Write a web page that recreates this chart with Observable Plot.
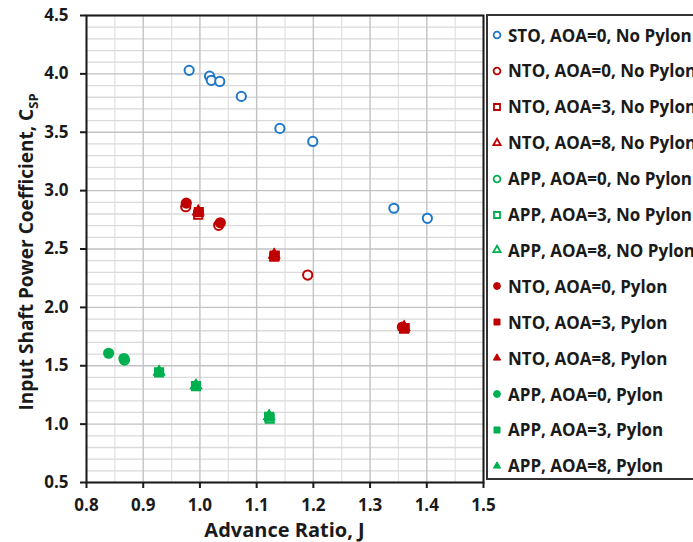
<!DOCTYPE html>
<html>
<head>
<meta charset="utf-8">
<script src="https://cdn.jsdelivr.net/npm/d3@7"></script>
<script src="https://cdn.jsdelivr.net/npm/@observablehq/plot@0.6"></script>
<style>
  body { margin: 0; background: #fff; overflow: hidden; }
  #chart { position: relative; width: 693px; height: 542px; overflow: hidden; font-family: "Open Sans", sans-serif; }
  #legend { position: absolute; left: 486px; top: 14px; width: 260px; height: 466px; border: 2px solid #333; background: #fff; box-sizing: border-box; }
  .item { position: absolute; left: 0; height: 22px; display: flex; align-items: center; white-space: nowrap; font-weight: 700; font-size: 17px; color: #1a1a1a; }
  .item svg { margin-left: 3px; margin-right: 5px; overflow: visible; }
</style>
</head>
<body>
<div id="chart"></div>
<script>
// Axis ticks and grid
const xTicks = [0.8, 0.9, 1.0, 1.1, 1.2, 1.3, 1.4, 1.5];
const xMinor = [0.85, 0.95, 1.05, 1.15, 1.25, 1.35, 1.45];
const yTicks = [0.5, 1.0, 1.5, 2.0, 2.5, 3.0, 3.5, 4.0, 4.5];
const yMinor = [0.6, 0.7, 0.8, 0.9, 1.1, 1.2, 1.3, 1.4, 1.6, 1.7, 1.8, 1.9,
                2.1, 2.2, 2.3, 2.4, 2.6, 2.7, 2.8, 2.9, 3.1, 3.2, 3.3, 3.4,
                3.6, 3.7, 3.8, 3.9, 4.1, 4.2, 4.3, 4.4];

// Advance ratio J and shaft power coefficient C_SP per test series
const stoA0NoPylonJ = [0.981, 1.017, 1.020, 1.035, 1.073, 1.141, 1.199, 1.342, 1.401];
const stoA0NoPylonC = [4.030, 3.980, 3.945, 3.935, 3.807, 3.533, 3.421, 2.849, 2.763];

const ntoA0NoPylonJ = [0.975, 1.033, 1.190];
const ntoA0NoPylonC = [2.862, 2.703, 2.277];
const ntoA3NoPylonJ = [0.997, 1.131, 1.360];
const ntoA3NoPylonC = [2.795, 2.435, 1.818];
const ntoA8NoPylonJ = [0.997, 1.131, 1.360];
const ntoA8NoPylonC = [2.822, 2.450, 1.830];

const appA0NoPylonJ = [0.867];
const appA0NoPylonC = [1.548];
const appA3NoPylonJ = [1.123];
const appA3NoPylonC = [1.047];
const appA8NoPylonJ = [0.928, 0.993, 1.122];
const appA8NoPylonC = [1.448, 1.330, 1.068];

const ntoA0PylonJ = [0.976, 1.036, 1.357];
const ntoA0PylonC = [2.893, 2.725, 1.832];
const ntoA3PylonJ = [0.998, 1.132, 1.361];
const ntoA3PylonC = [2.817, 2.443, 1.823];
const ntoA8PylonJ = [0.997, 1.131, 1.360];
const ntoA8PylonC = [2.822, 2.450, 1.830];

const appA0PylonJ = [0.839, 0.866];
const appA0PylonC = [1.607, 1.562];
const appA3PylonJ = [0.928, 0.993, 1.122];
const appA3PylonC = [1.443, 1.325, 1.063];
const appA8PylonJ = [0.928, 0.993, 1.122];
const appA8PylonC = [1.448, 1.330, 1.068];

// Series in legend (and drawing) order
const seriesLabels = [
  "STO, AOA=0, No Pylon", "NTO, AOA=0, No Pylon", "NTO, AOA=3, No Pylon", "NTO, AOA=8, No Pylon",
  "APP, AOA=0, No Pylon", "APP, AOA=3, No Pylon", "APP, AOA=8, NO Pylon",
  "NTO, AOA=0, Pylon", "NTO, AOA=3, Pylon", "NTO, AOA=8, Pylon",
  "APP, AOA=0, Pylon", "APP, AOA=3, Pylon", "APP, AOA=8, Pylon"
];
const seriesJ = [stoA0NoPylonJ, ntoA0NoPylonJ, ntoA3NoPylonJ, ntoA8NoPylonJ,
  appA0NoPylonJ, appA3NoPylonJ, appA8NoPylonJ,
  ntoA0PylonJ, ntoA3PylonJ, ntoA8PylonJ, appA0PylonJ, appA3PylonJ, appA8PylonJ];
const seriesC = [stoA0NoPylonC, ntoA0NoPylonC, ntoA3NoPylonC, ntoA8NoPylonC,
  appA0NoPylonC, appA3NoPylonC, appA8NoPylonC,
  ntoA0PylonC, ntoA3PylonC, ntoA8PylonC, appA0PylonC, appA3PylonC, appA8PylonC];

// Marker style: colour by propeller, shape by AOA, filled when the pylon is on
const rigColor = { STO: "#1f78c8", NTO: "#c00000", APP: "#00b050" };
const aoaSymbol = { "0": "circle", "3": "square", "8": "triangle" };
// radius per shape so that all markers share roughly the same bounding box
const symbolRadius = { circle: 4.6, square: 4.6, triangle: 3.5 };
function styleOf(label) {
  const rig = label.slice(0, 3);
  const aoa = label.match(/AOA=(\d)/)[1];
  const pylon = !/no pylon/i.test(label);
  return { color: rigColor[rig], symbol: aoaSymbol[aoa], filled: pylon };
}

const series = seriesLabels.map((label, i) => ({
  label, style: styleOf(label),
  rows: seriesJ[i].map((J, k) => ({ J, C: seriesC[i][k] }))
}));

const dotMarks = series.map(s => Plot.dot(s.rows, {
  x: "J", y: "C", symbol: s.style.symbol, r: symbolRadius[s.style.symbol],
  fill: s.style.filled ? s.style.color : "white",
  stroke: s.style.color, strokeWidth: 2
}));

const fmt = d3.format(".1f");

const chart = Plot.plot({
  width: 693, height: 542,
  marginLeft: 86, marginRight: 210, marginTop: 15, marginBottom: 60,
  x: { domain: [0.8, 1.5] },
  y: { domain: [0.5, 4.5] },
  style: { fontFamily: "'Open Sans', sans-serif", fontSize: "17px", fontWeight: "700", color: "#1a1a1a", background: "transparent" },
  marks: [
    Plot.ruleX(xMinor, { stroke: "#e2e2e2", strokeWidth: 1.3 }),
    Plot.ruleY(yMinor, { stroke: "#dadada", strokeWidth: 1.3 }),
    Plot.ruleX(xTicks, { stroke: "#c2c2c2", strokeWidth: 1.4 }),
    Plot.ruleY(yTicks, { stroke: "#c2c2c2", strokeWidth: 1.4 }),
    Plot.frame({ stroke: "#1a1a1a", strokeWidth: 2 }),
    Plot.axisX({ ticks: xTicks, tickFormat: fmt, tickSize: 6, tickPadding: 10, label: null, strokeWidth: 2 }),
    Plot.axisY({ ticks: yTicks, tickFormat: fmt, tickSize: 6, tickPadding: 12, label: null, strokeWidth: 2 }),
    ...dotMarks
  ]
});

const root = document.getElementById("chart");
root.appendChild(chart);

// Axis titles
const svg = d3.select(chart);
svg.append("text")
  .attr("x", 284.5).attr("y", 537)
  .attr("text-anchor", "middle")
  .attr("font-size", 20).attr("font-weight", 700).attr("fill", "#1a1a1a")
  .text("Advance Ratio, J");

const yTitle = svg.append("text")
  .attr("transform", "translate(33,252) rotate(-90)")
  .attr("text-anchor", "middle")
  .attr("font-size", 19).attr("font-weight", 700).attr("fill", "#1a1a1a");
yTitle.append("tspan").text("Input Shaft Power Coefficient, C");
yTitle.append("tspan").attr("font-size", 13).attr("dy", 5).text("SP");

// Legend box
const legend = document.createElement("div");
legend.id = "legend";
root.appendChild(legend);
const legendRadius = { circle: 3.4, square: 3.4, triangle: 2.7 };
series.forEach((s, i) => {
  const item = document.createElement("div");
  item.className = "item";
  item.style.top = (19 + i * 35.9 - 11) + "px";
  const ns = "http://www.w3.org/2000/svg";
  const sw = document.createElementNS(ns, "svg");
  sw.setAttribute("width", 12); sw.setAttribute("height", 12);
  const path = document.createElementNS(ns, "path");
  const sym = { circle: d3.symbolCircle, square: d3.symbolSquare, triangle: d3.symbolTriangle }[s.style.symbol];
  const lr = legendRadius[s.style.symbol];
  path.setAttribute("d", d3.symbol(sym, Math.PI * lr * lr)());
  path.setAttribute("transform", "translate(6,6)");
  path.setAttribute("fill", s.style.filled ? s.style.color : "white");
  path.setAttribute("stroke", s.style.color);
  path.setAttribute("stroke-width", s.style.filled ? 1 : 1.8);
  sw.appendChild(path);
  item.appendChild(sw);
  const span = document.createElement("span");
  span.textContent = s.label;
  item.appendChild(span);
  legend.appendChild(item);
});
</script>
</body>
</html>
